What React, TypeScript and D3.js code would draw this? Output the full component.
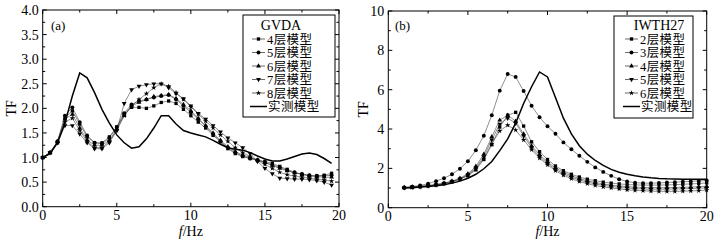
import React from 'react';
import * as d3 from 'd3';

// ---------- Panel (a): GVDA ----------
const freqA = [0, 0.5, 1, 1.5, 2, 2.5, 3, 3.5, 4, 4.5, 5, 5.5, 6, 6.5, 7, 7.5, 8, 8.5, 9, 9.5, 10, 10.5, 11, 11.5, 12, 12.5, 13, 13.5, 14, 14.5, 15, 15.5, 16, 16.5, 17, 17.5, 18, 18.5, 19, 19.5];
const gvdaMeasured = [1.0, 1.08, 1.3, 1.7, 2.25, 2.72, 2.62, 2.32, 1.98, 1.7, 1.46, 1.3, 1.19, 1.22, 1.38, 1.6, 1.85, 1.85, 1.68, 1.55, 1.5, 1.46, 1.42, 1.35, 1.27, 1.2, 1.17, 1.15, 1.1, 1.03, 0.97, 0.93, 0.93, 0.97, 1.02, 1.07, 1.09, 1.06, 0.98, 0.88];
const gvda4 = [1.0, 1.1, 1.32, 1.8, 1.95, 1.68, 1.42, 1.3, 1.3, 1.42, 1.62, 1.88, 2.02, 2.02, 2.0, 2.05, 2.12, 2.15, 2.1, 1.98, 1.85, 1.72, 1.6, 1.45, 1.32, 1.18, 1.08, 1.02, 0.98, 0.95, 0.92, 0.88, 0.82, 0.76, 0.7, 0.66, 0.63, 0.62, 0.64, 0.68];
const gvda5 = [1.0, 1.1, 1.33, 1.85, 2.02, 1.72, 1.45, 1.3, 1.28, 1.4, 1.62, 1.9, 2.08, 2.15, 2.18, 2.22, 2.25, 2.27, 2.18, 2.05, 1.92, 1.78, 1.63, 1.48, 1.33, 1.2, 1.1, 1.03, 0.98, 0.94, 0.9, 0.85, 0.8, 0.74, 0.69, 0.66, 0.64, 0.63, 0.63, 0.64];
const gvda6 = [1.0, 1.1, 1.32, 1.78, 1.88, 1.6, 1.36, 1.25, 1.25, 1.35, 1.58, 1.85, 2.05, 2.12, 2.18, 2.24, 2.26, 2.28, 2.2, 2.08, 1.95, 1.8, 1.65, 1.5, 1.35, 1.22, 1.12, 1.05, 1.0, 0.95, 0.9, 0.84, 0.78, 0.73, 0.69, 0.66, 0.63, 0.61, 0.6, 0.6];
const gvda7 = [1.0, 1.1, 1.3, 1.65, 1.65, 1.48, 1.3, 1.18, 1.18, 1.3, 1.55, 2.1, 2.38, 2.45, 2.48, 2.5, 2.5, 2.42, 2.3, 2.2, 2.05, 1.9, 1.78, 1.65, 1.52, 1.4, 1.3, 1.2, 1.08, 0.92, 0.78, 0.67, 0.58, 0.57, 0.56, 0.56, 0.55, 0.53, 0.5, 0.44];
const gvda8 = [1.0, 1.1, 1.3, 1.72, 1.8, 1.55, 1.33, 1.2, 1.2, 1.33, 1.55, 1.85, 2.05, 2.18, 2.3, 2.42, 2.5, 2.45, 2.32, 2.18, 2.03, 1.88, 1.74, 1.6, 1.46, 1.33, 1.2, 1.1, 1.02, 0.94, 0.86, 0.78, 0.7, 0.65, 0.62, 0.6, 0.58, 0.56, 0.54, 0.52];
const namesA = ['4层模型', '5层模型', '6层模型', '7层模型', '8层模型'];
const yTicksA = [0, 0.5, 1, 1.5, 2, 2.5, 3, 3.5, 4];
const xTicks = [0, 5, 10, 15, 20];

// ---------- Panel (b): IWTH27 ----------
const freqB = [1, 1.5, 2, 2.5, 3, 3.5, 4, 4.5, 5, 5.5, 6, 6.5, 7, 7.5, 8, 8.5, 9, 9.5, 10, 10.5, 11, 11.5, 12, 12.5, 13, 13.5, 14, 14.5, 15, 15.5, 16, 16.5, 17, 17.5, 18, 18.5, 19, 19.5, 20];
const iwthMeasured = [1.0, 1.02, 1.05, 1.08, 1.12, 1.17, 1.25, 1.35, 1.5, 1.7, 1.98, 2.35, 2.9, 3.5, 4.3, 5.3, 6.15, 6.9, 6.65, 5.6, 4.55, 3.75, 3.15, 2.72, 2.4, 2.15, 1.95, 1.8, 1.7, 1.62, 1.56, 1.52, 1.49, 1.47, 1.46, 1.45, 1.45, 1.45, 1.45];
const iwth2 = [1.02, 1.05, 1.08, 1.12, 1.17, 1.24, 1.33, 1.45, 1.62, 1.92, 2.45, 3.2, 4.1, 4.7, 4.85, 4.15, 3.35, 2.85, 2.45, 2.12, 1.88, 1.7, 1.56, 1.45, 1.37, 1.3, 1.25, 1.21, 1.18, 1.16, 1.15, 1.15, 1.15, 1.16, 1.17, 1.19, 1.21, 1.23, 1.26];
const iwth3 = [1.03, 1.07, 1.13, 1.22, 1.35, 1.5, 1.7, 1.98, 2.36, 2.92, 3.66, 4.7, 5.95, 6.8, 6.65, 5.93, 5.18, 4.6, 4.14, 3.76, 3.32, 2.97, 2.64, 2.33, 2.05, 1.82, 1.62, 1.45, 1.33, 1.27, 1.25, 1.25, 1.26, 1.28, 1.3, 1.32, 1.34, 1.36, 1.38];
const iwth4 = [1.02, 1.05, 1.08, 1.12, 1.17, 1.24, 1.35, 1.5, 1.72, 2.1, 2.72, 3.6, 4.45, 4.7, 4.4, 3.75, 3.15, 2.7, 2.33, 2.02, 1.8, 1.62, 1.48, 1.37, 1.28, 1.21, 1.15, 1.11, 1.07, 1.05, 1.03, 1.02, 1.02, 1.02, 1.03, 1.04, 1.05, 1.07, 1.09];
const iwth5 = [1.01, 1.04, 1.07, 1.11, 1.16, 1.23, 1.33, 1.47, 1.68, 2.02, 2.6, 3.45, 4.25, 4.55, 4.3, 3.65, 3.05, 2.6, 2.25, 1.95, 1.72, 1.55, 1.41, 1.3, 1.21, 1.14, 1.08, 1.03, 1.0, 0.97, 0.95, 0.94, 0.94, 0.94, 0.95, 0.96, 0.97, 0.99, 1.01];
const iwth6 = [1.01, 1.03, 1.06, 1.1, 1.15, 1.22, 1.32, 1.45, 1.65, 1.98, 2.5, 3.25, 3.9, 4.2, 3.95, 3.45, 2.95, 2.52, 2.18, 1.88, 1.65, 1.47, 1.33, 1.22, 1.13, 1.06, 1.0, 0.95, 0.91, 0.88, 0.86, 0.84, 0.83, 0.83, 0.83, 0.84, 0.85, 0.87, 0.89];
const namesB = ['2层模型', '3层模型', '4层模型', '5层模型', '6层模型'];
const yTicksB = [0, 2, 4, 6, 8, 10];
const measuredName = '实测模型';

const SERIF = '"Liberation Serif", "Times New Roman", serif';
const LEG = '"Liberation Serif", "Noto Sans CJK SC", serif';

const symbolTypes = [d3.symbolSquare, d3.symbolCircle, d3.symbolTriangle, d3.symbolTriangle, d3.symbolStar];
const symbolSizes = [11, 12, 10, 10, 9];
const symbolRot = [0, 0, 0, 180, 0];

function Marker({ i, x, y }: { i: number; x: number; y: number }) {
  const p = d3.symbol().type(symbolTypes[i]).size(symbolSizes[i])() as string;
  return <path d={p} transform={`translate(${x},${y}) rotate(${symbolRot[i]})`} fill="#000" />;
}

type PanelProps = {
  x0: number; x1: number; yTop: number; yBot: number;
  yMax: number; yTicks: number[]; yFmt: (v: number) => string;
  freq: number[]; series: number[][]; names: string[]; measured: number[];
  title: string; label: string; labelX: number;
  legend: { x: number; y: number; w: number; h: number; titleX: number; lineX0: number; lineX1: number; textX: number };
  tfX: number;
};

function Panel(p: PanelProps) {
  const xs = d3.scaleLinear().domain([0, 20]).range([p.x0, p.x1]);
  const ys = d3.scaleLinear().domain([0, p.yMax]).range([p.yBot, p.yTop]);
  const line = d3.line<[number, number]>().x(d => xs(d[0])).y(d => ys(d[1]));
  const minorX = [2.5, 7.5, 12.5, 17.5];
  const minorY: number[] = [];
  for (let k = 0; k < p.yTicks.length - 1; k++) minorY.push((p.yTicks[k] + p.yTicks[k + 1]) / 2);
  const L = p.legend;
  const itemY = [39, 52.5, 66, 79.5, 93, 106.5];
  return (
    <g>
      {p.series.map((vals, i) => (
        <path key={'l' + i} d={line(p.freq.map((f, j) => [f, vals[j]] as [number, number])) as string}
          fill="none" stroke="#444" strokeWidth={0.6} />
      ))}
      {p.series.map((vals, i) => (
        <g key={'m' + i}>
          {p.freq.map((f, j) => <Marker key={j} i={i} x={xs(f)} y={ys(vals[j])} />)}
        </g>
      ))}
      <path d={line(p.freq.map((f, j) => [f, p.measured[j]] as [number, number])) as string}
        fill="none" stroke="#000" strokeWidth={1.5} />
      <rect x={p.x0} y={p.yTop} width={p.x1 - p.x0} height={p.yBot - p.yTop} fill="none" stroke="#000" strokeWidth={1} />
      {xTicks.map(t => (
        <g key={'xt' + t}>
          <line x1={xs(t)} x2={xs(t)} y1={p.yBot} y2={p.yBot - 4} stroke="#000" />
          <line x1={xs(t)} x2={xs(t)} y1={p.yTop} y2={p.yTop + 4} stroke="#000" />
          <text x={xs(t)} y={p.yBot + 13} textAnchor="middle" fontSize={14} fontFamily={SERIF}>{t}</text>
        </g>
      ))}
      {minorX.map(t => (
        <g key={'xm' + t}>
          <line x1={xs(t)} x2={xs(t)} y1={p.yBot} y2={p.yBot - 2.5} stroke="#000" />
          <line x1={xs(t)} x2={xs(t)} y1={p.yTop} y2={p.yTop + 2.5} stroke="#000" />
        </g>
      ))}
      {p.yTicks.map(t => (
        <g key={'yt' + t}>
          <line x1={p.x0} x2={p.x0 + 4} y1={ys(t)} y2={ys(t)} stroke="#000" />
          <line x1={p.x1} x2={p.x1 - 4} y1={ys(t)} y2={ys(t)} stroke="#000" />
          <text x={p.x0 - 4} y={ys(t) + 5} textAnchor="end" fontSize={14} fontFamily={SERIF}>{p.yFmt(t)}</text>
        </g>
      ))}
      {minorY.map(t => (
        <g key={'ym' + t}>
          <line x1={p.x0} x2={p.x0 + 2.5} y1={ys(t)} y2={ys(t)} stroke="#000" />
          <line x1={p.x1} x2={p.x1 - 2.5} y1={ys(t)} y2={ys(t)} stroke="#000" />
        </g>
      ))}
      <text x={(p.x0 + p.x1) / 2} y={236} textAnchor="middle" fontSize={14} fontFamily={SERIF}>
        <tspan fontStyle="italic">f</tspan>/Hz
      </text>
      <text transform={`translate(${p.tfX},${(p.yTop + p.yBot) / 2}) rotate(-90)`} textAnchor="middle" fontSize={14} fontFamily={SERIF}>TF</text>
      <text x={p.labelX} y={30} fontSize={13} fontFamily={SERIF}>{p.label}</text>
      <rect x={L.x} y={L.y} width={L.w} height={L.h} fill="#fff" stroke="#000" strokeWidth={1} />
      <text x={L.titleX} y={30} textAnchor="middle" fontSize={14} fontFamily={SERIF}>{p.title}</text>
      {p.names.map((n, i) => (
        <g key={'lg' + i}>
          <line x1={L.lineX0} x2={L.lineX1} y1={itemY[i]} y2={itemY[i]} stroke="#444" strokeWidth={0.8} />
          <Marker i={i} x={(L.lineX0 + L.lineX1) / 2} y={itemY[i]} />
          <text x={L.textX} y={itemY[i] + 4.5} fontSize={12.5} letterSpacing={0.4} fontFamily={LEG}>{n}</text>
        </g>
      ))}
      <line x1={L.lineX0 - 2} x2={L.lineX1 + 2} y1={itemY[5]} y2={itemY[5]} stroke="#000" strokeWidth={1.5} />
      <text x={L.textX + 1} y={itemY[5] + 4.5} fontSize={12.5} letterSpacing={0.4} fontFamily={LEG}>{measuredName}</text>
    </g>
  );
}

export default function App() {
  return (
    <svg width={721} height={243} style={{ position: 'absolute', left: 0, top: 0, background: '#fff' }}>
      <rect width={721} height={243} fill="#fff" />
      <Panel x0={42.7} x1={339} yTop={10} yBot={206.7} yMax={4} yTicks={yTicksA}
        yFmt={v => v.toFixed(1)} freq={freqA} series={[gvda4, gvda5, gvda6, gvda7, gvda8]} names={namesA}
        measured={gvdaMeasured} title="GVDA" label="(a)" labelX={51} tfX={16}
        legend={{ x: 243, y: 15, w: 92, h: 102, titleX: 281, lineX0: 252, lineX1: 265, textX: 267 }} />
      <Panel x0={388.3} x1={706.7} yTop={11} yBot={207.7} yMax={10} yTicks={yTicksB}
        yFmt={v => String(v)} freq={freqB} series={[iwth2, iwth3, iwth4, iwth5, iwth6]} names={namesB}
        measured={iwthMeasured} title="IWTH27" label="(b)" labelX={395} tfX={368}
        legend={{ x: 614, y: 16, w: 79, h: 102, titleX: 659, lineX0: 625, lineX1: 638, textX: 640 }} />
    </svg>
  );
}
